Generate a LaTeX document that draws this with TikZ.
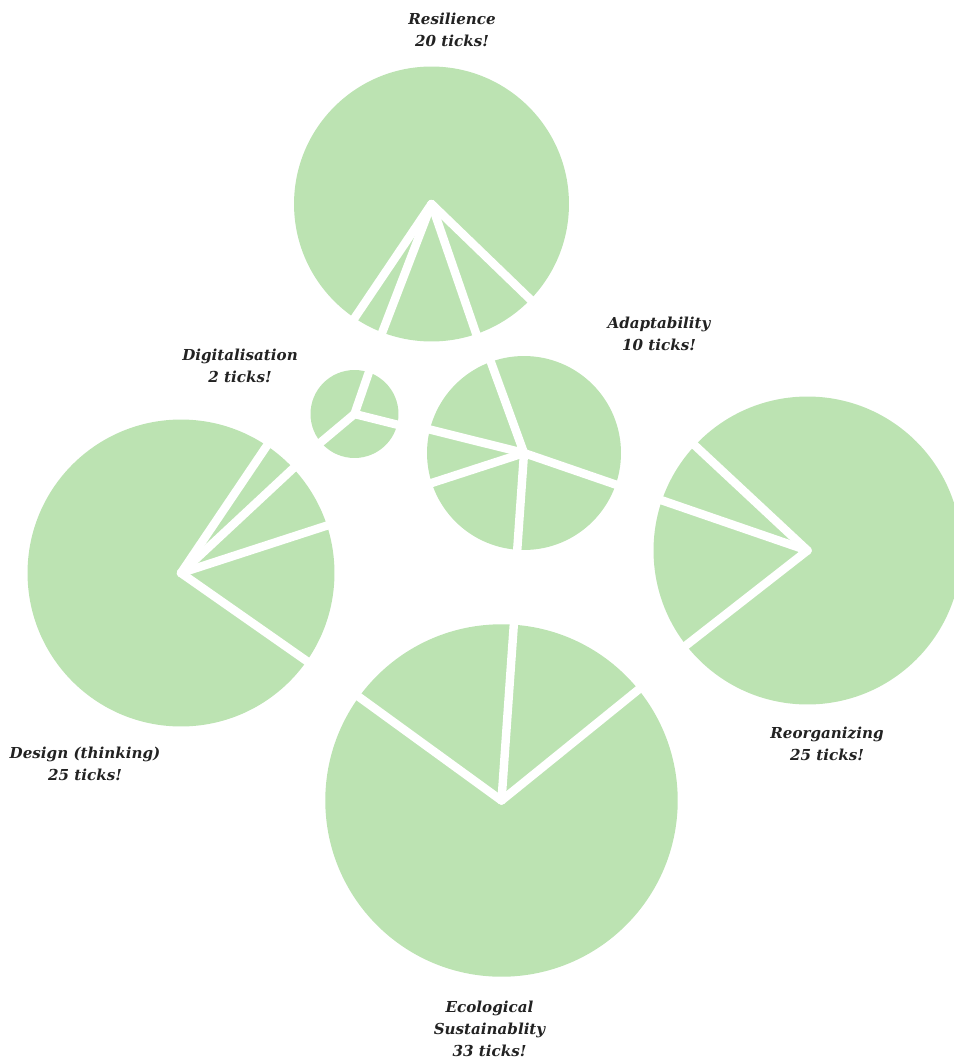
\documentclass[tikz,border=0pt]{standalone}
\usepackage{fontspec}
\newfontfamily\lblfont{DejaVu Serif}
\definecolor{piegreen}{RGB}{188,227,178}
\definecolor{ink}{RGB}{34,34,34}
\tikzset{
  piechart/.style={circle, fill=piegreen, inner sep=0pt, outer sep=4pt},
  cut/.style={draw=white, line width=4.8pt, line cap=round},
  lbl/.style={font=\lblfont\bfseries\itshape\fontsize{8.6}{12.5}\selectfont, text=ink, align=center}
}

\begin{document}
\begin{tikzpicture}[x=0.02cm, y=-0.02cm]
        \useasboundingbox (0,0) rectangle (953,1064);
        % Resilience
        \node[piechart, minimum size=5.5cm] (res) at (431.5,204) {};
        \foreach \a in {236.3,249.9,289.6,316.9}
                \draw[cut] (res.center) -- (res.\a);
        \node[lbl] (reslbl) at (452,29.5) {Resilience\\20 ticks!};
        % Digitalisation
        \node[piechart, minimum size=1.76cm] (dig) at (354.5,414) {};
        \foreach \a in {71,-14.1,220.2}
                \draw[cut] (dig.center) -- (dig.\a);
        \node[lbl] (diglbl) at (240,366) {Digitalisation\\2 ticks!};
        % Adaptability
        \node[piechart, minimum size=3.88cm] (ada) at (524,453) {};
        \foreach \a in {110.8,166.9,198.2,266.3,341.4}
                \draw[cut] (ada.center) -- (ada.\a);
        \node[lbl] (adalbl) at (659,334) {Adaptability\\10 ticks!};
        % Design (thinking)
        \node[piechart, minimum size=6.14cm] (des) at (181,573) {};
        \foreach \a in {56.2,43,18.8,-35.3}
                \draw[cut] (des.center) -- (des.\a);
        \node[lbl] (deslbl) at (85,764) {Design (thinking)\\25 ticks!};
        % Reorganizing
        \node[piechart, minimum size=6.16cm] (reo) at (807.5,550.5) {};
        \foreach \a in {137.3,161.5,218.9}
                \draw[cut] (reo.center) -- (reo.\a);
        \node[lbl] (reolbl) at (827,744) {Reorganizing\\25 ticks!};
        % Ecological Sustainablity
        \node[piechart, minimum size=7.05cm] (eco) at (501.5,800.5) {};
        \foreach \a in {86.3,144.7,39.3}
                \draw[cut] (eco.center) -- (eco.\a);
        \node[lbl] (ecolbl) at (489.5,1028.5) {Ecological\\Sustainablity\\33 ticks!};
      \end{tikzpicture}
\end{document}
